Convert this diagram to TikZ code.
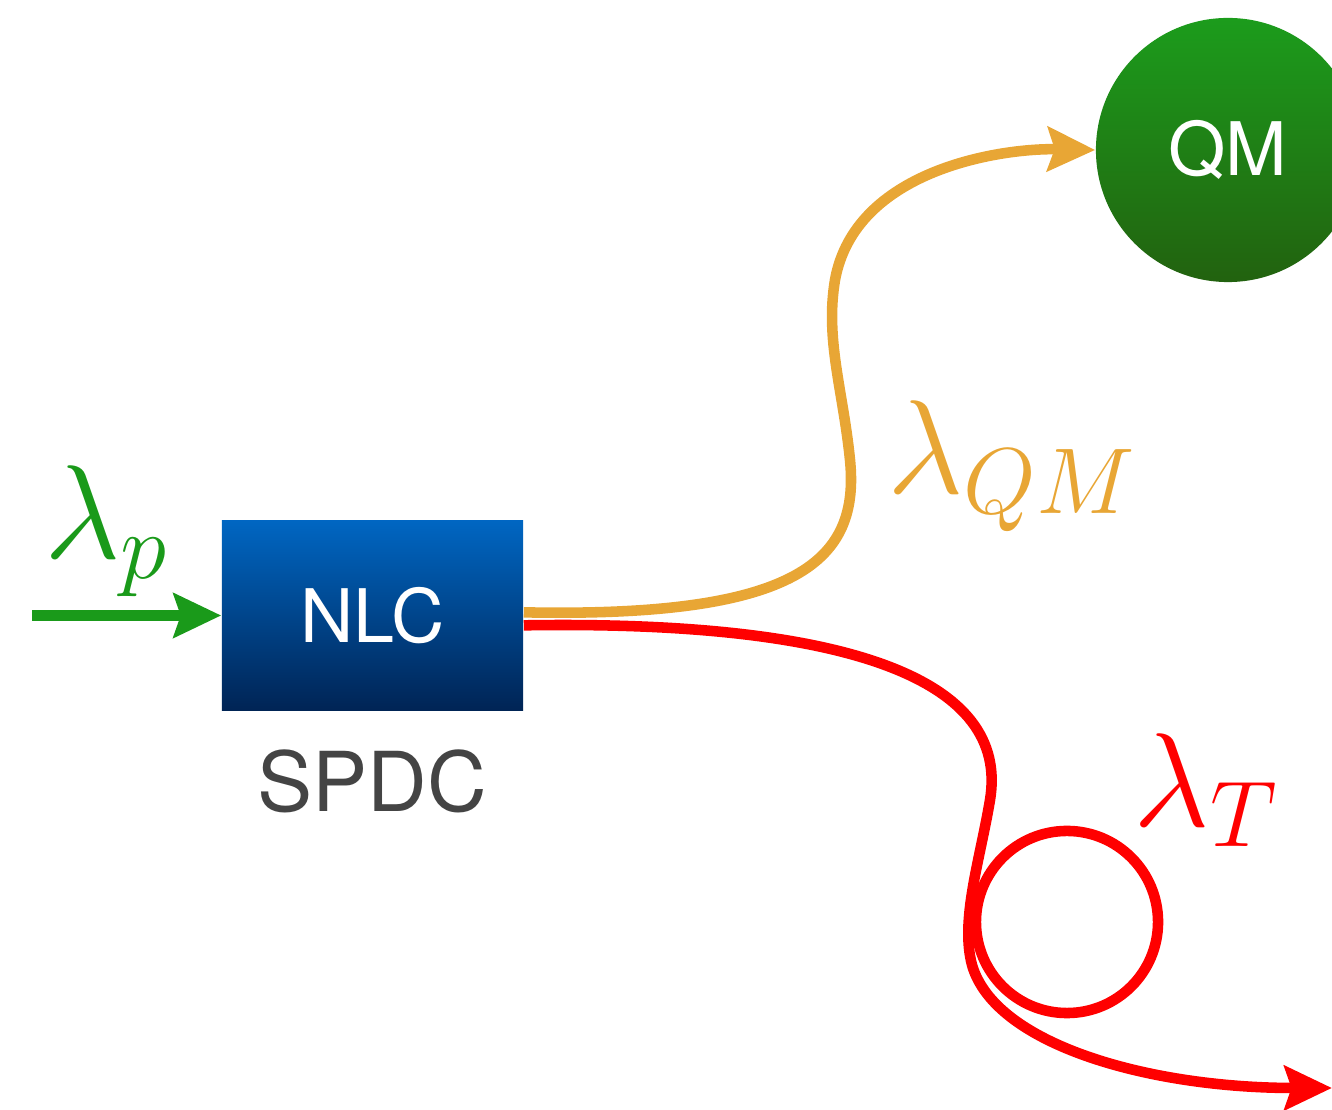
\RequirePackage{fix-cm}
\documentclass[tikz,border=0pt]{standalone}
\usepackage{fontspec}
\setsansfont{TeX Gyre Heros}
\usepackage{amsmath}
\usetikzlibrary{arrows.meta}
\definecolor{pumpgreen}{HTML}{1A9A1A}
\definecolor{qmorange}{HTML}{E8A635}
\definecolor{boxtop}{HTML}{0066C2}
\definecolor{boxbottom}{HTML}{002455}
\definecolor{qmtop}{HTML}{1C9C1C}
\definecolor{qmbottom}{HTML}{22620F}
\definecolor{spdcgray}{HTML}{444444}

\begin{document}
\begin{tikzpicture}[x=0.01cm,y=-0.01cm,>=Stealth,
	beam/.style={line width=3pt},
	bigtip/.style={-{Stealth[length=13.5pt,width=12.5pt,inset=2pt]}},
	wavelabel/.style={inner sep=0pt,font=\fontsize{38}{44}\selectfont},
	devlabel/.style={font=\sffamily\fontsize{21}{25}\selectfont,text=white}]
	
	\useasboundingbox (0,0) rectangle (1332,1110);
	
	% Crystal and memory
	\node[devlabel,minimum width=3.01cm,minimum height=1.89cm,inner sep=0pt,
	top color=boxtop,bottom color=boxbottom] (nlc) at (372.5,615.5) {NLC};
	\node[font=\sffamily\fontsize{23.5}{28}\selectfont,text=spdcgray] (spdc) at (372,781) {SPDC};
	\node[devlabel,circle,minimum size=2.64cm,inner sep=0pt,
	top color=qmtop,bottom color=qmbottom] (qm) at (1228,150) {QM};
	
	% Pump beam
	\coordinate (pumpin) at (32,615.5);
	\draw[beam,bigtip,pumpgreen] (pumpin) -- (nlc.west);
	\node[wavelabel,text=pumpgreen] (lp) at (106.5,531.5) {$\lambda_p$};
	
	% Photon towards the memory
	\draw[beam,bigtip,qmorange] ([yshift=0.9pt]nlc.east)
	.. controls (800,618) and (860,560) .. (850,460)
	.. controls (843,390) and (825,340) .. (835,280)
	.. controls (855,170) and (1000,148) .. (qm.west);
	\node[wavelabel,text=qmorange] (lqm) at (1012,466) {$\lambda_{QM}$};
	
	% Telecom photon with fibre loop
	\coordinate (telout) at (1332,1088);
	\coordinate (loop) at (1067,922);
	\draw[beam,bigtip,red] ([yshift=-2.8pt]nlc.east)
	.. controls (850,620) and (1010,680) .. (990,800)
	.. controls (980,860) and (960,920) .. (972,965)
	.. controls (995,1045) and (1150,1088) .. (telout);
	\draw[beam,red] (loop) circle[radius=0.91cm];
	\node[wavelabel,text=red] (lt) at (1206,790) {$\lambda_T$};
	
\end{tikzpicture}
\end{document}
